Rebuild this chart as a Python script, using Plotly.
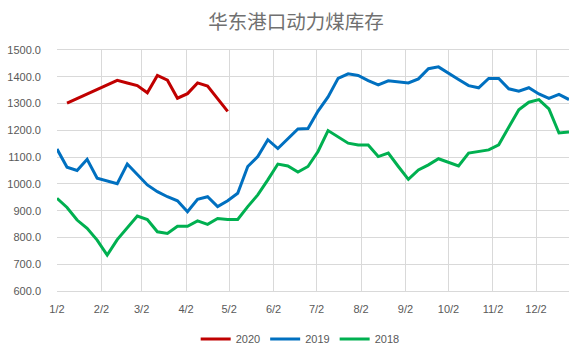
import pandas as pd
import plotly.graph_objects as go

# Weekly observations (display year aligned to a common calendar)
week_start_2019_2018 = "2019-01-02"
week_start_2020 = "2019-01-09"

v2020 = [1302, None, None, None, None, 1387, 1377, 1367, 1340, 1405, 1387,
         1320, 1337, 1377, 1365, 1318, 1271]

v2019 = [1130, 1062, 1050, 1092, 1021, 1011, 1001, 1074, 1035, 996, 971, 952,
         937, 896, 942, 952, 915, 937, 965, 1065, 1102, 1165, 1132, 1170, 1205,
         1207, 1272, 1325, 1394, 1411, 1405, 1386, 1370, 1385, 1381, 1377, 1392,
         1430, 1437, 1412, 1390, 1367, 1359, 1394, 1394, 1355, 1346, 1359, 1336,
         1319, 1334, 1315]

v2018 = [946, 912, 865, 834, 790, 734, 792, 836, 880, 867, 821, 815, 842, 842,
         862, 849, 871, 867, 867, 915, 959, 1015, 1074, 1067, 1044, 1065, 1121,
         1199, 1177, 1152, 1145, 1145, 1102, 1115, 1065, 1017, 1052, 1071, 1094,
         1081, 1067, 1115, 1122, 1127, 1146, 1209, 1277, 1305, 1315, 1280, 1190,
         1194]

tick_dates = ["2019-01-02", "2019-02-02", "2019-03-02", "2019-04-02", "2019-05-02",
              "2019-06-02", "2019-07-02", "2019-08-02", "2019-09-02", "2019-10-02",
              "2019-11-02", "2019-12-02"]
tick_labels = ["1/2", "2/2", "3/2", "4/2", "5/2", "6/2", "7/2", "8/2", "9/2",
               "10/2", "11/2", "12/2"]

series_names = ["2020", "2019", "2018"]
colors = ["#C00000", "#0070C0", "#00B050"]

d2020 = pd.date_range(week_start_2020, periods=len(v2020), freq="7D")
d_main = pd.date_range(week_start_2019_2018, periods=len(v2019), freq="7D")

fig = go.Figure()
for name, xs, ys, c in [(series_names[0], d2020, v2020, colors[0]),
                        (series_names[1], d_main, v2019, colors[1]),
                        (series_names[2], d_main, v2018, colors[2])]:
    fig.add_trace(go.Scatter(x=xs, y=ys, mode="lines", name=name,
                             connectgaps=True,
                             line=dict(color=c, width=3)))

grid = "#D9D9D9"
txt = "#595959"
fig.update_layout(
    width=584, height=353,
    margin=dict(l=57, r=15, t=50, b=62, autoexpand=False),
    paper_bgcolor="white", plot_bgcolor="white",
    font=dict(family="Liberation Sans", size=11, color=txt),
    title=dict(text="华东港口动力煤库存", x=0.507, xref="container", xanchor="center",
               y=1 - 22 / 353, yref="container", yanchor="middle",
               font=dict(family="Noto Sans CJK SC", size=19.5, color="#707070")),
    showlegend=True,
    legend=dict(orientation="h", x=0.514, xref="container", xanchor="center",
                y=(353 - 339) / 353, yref="container",
                yanchor="middle", font=dict(size=11, color=txt),
                itemwidth=30, tracegroupgap=0),
    xaxis=dict(type="date", range=[d_main[0], d_main[-1]],
               tickmode="array", tickvals=tick_dates, ticktext=tick_labels,
               showgrid=True, gridcolor=grid, gridwidth=1,
               showline=True, linecolor=grid, linewidth=1, mirror=True,
               ticks="", ticklabelstandoff=8, zeroline=False),
    yaxis=dict(range=[600, 1500], dtick=100, tick0=600, tickformat=".1f",
               showgrid=True, gridcolor=grid, gridwidth=1,
               showline=False, ticks="", ticklabelstandoff=15, zeroline=False),
)

fig.write_html("out.html")
